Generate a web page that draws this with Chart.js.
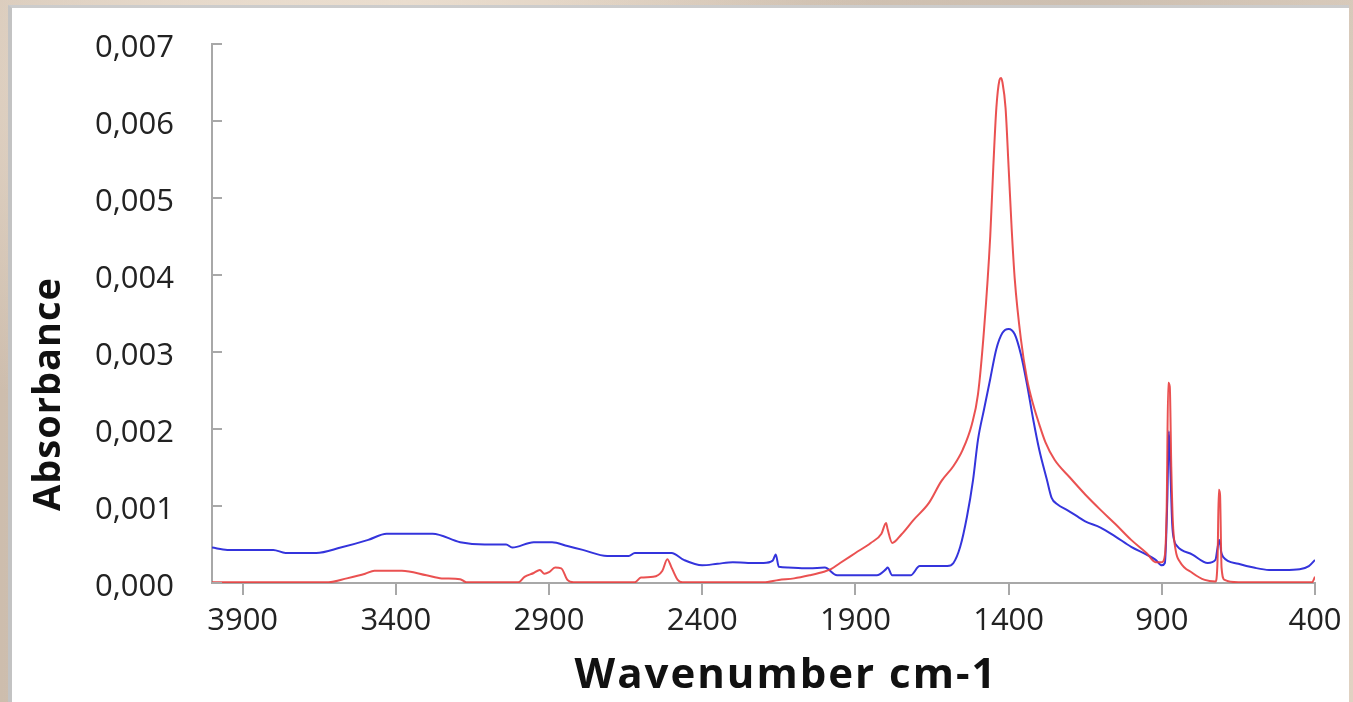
<!DOCTYPE html>
<html>
<head>
<meta charset="utf-8">
<script src="https://cdn.jsdelivr.net/npm/chart.js@4.4.1/dist/chart.umd.min.js"></script>
<style>
    html, body { margin: 0; padding: 0; }
    body {
        width: 1353px; height: 702px; overflow: hidden; position: relative;
        background-color: #d5c6b6;
        background-image:
            radial-gradient(ellipse at 20% 10%, rgba(240,228,214,0.8), rgba(240,228,214,0) 40%),
            radial-gradient(ellipse at 80% 0%, rgba(200,186,172,0.7), rgba(200,186,172,0) 35%),
            linear-gradient(90deg, #cdbdad, #e2d4c4 30%, #d3c3b2 60%, #e0d2c2);
    }
    #panel {
        position: absolute; left: 8px; top: 5px; width: 1337px; height: 700px;
        background: #fff; border-left: 4px solid #c3c3c3; border-top: 3px solid #cccccc;
    }
    #chart { position: absolute; left: 0; top: 0; }
</style>
</head>
<body>
<div id="panel"></div>
<canvas id="chart" width="1353" height="702"></canvas>
<script>
// Spectrum data (wavenumber cm-1, absorbance x 1e-3)
const blueWavenumbers = [4000, 3950, 3800, 3760, 3660, 3580, 3490, 3430, 3280, 3190, 3110, 3040, 3020, 2950, 2890, 2840, 2790, 2710, 2640, 2620, 2500, 2460, 2400, 2350, 2300, 2250, 2200, 2170, 2160, 2150, 2120, 2050, 2000, 1960, 1900, 1830, 1800, 1795, 1780, 1720, 1690, 1600, 1580, 1558, 1536, 1516, 1500, 1480, 1460, 1440, 1420, 1400, 1380, 1360, 1340, 1320, 1300, 1275, 1260, 1240, 1210, 1170, 1150, 1100, 1050, 1000, 950, 920, 900, 890, 882, 877, 872, 866, 860, 850, 800, 750, 725, 718, 712, 706, 700, 650, 600, 550, 500, 450, 420, 400];
const blueAbsorbance = [0.46, 0.43, 0.43, 0.39, 0.39, 0.46, 0.56, 0.64, 0.64, 0.53, 0.50, 0.50, 0.46, 0.53, 0.53, 0.48, 0.43, 0.35, 0.35, 0.39, 0.39, 0.30, 0.23, 0.25, 0.27, 0.26, 0.26, 0.29, 0.37, 0.21, 0.20, 0.19, 0.20, 0.10, 0.10, 0.10, 0.18, 0.20, 0.10, 0.10, 0.22, 0.22, 0.26, 0.47, 0.86, 1.34, 1.86, 2.26, 2.65, 3.04, 3.25, 3.30, 3.23, 2.97, 2.58, 2.13, 1.73, 1.34, 1.11, 1.02, 0.95, 0.85, 0.80, 0.72, 0.60, 0.47, 0.37, 0.30, 0.23, 0.26, 1.08, 1.97, 1.47, 0.76, 0.56, 0.48, 0.37, 0.26, 0.30, 0.46, 0.56, 0.40, 0.34, 0.25, 0.20, 0.17, 0.17, 0.18, 0.22, 0.30];

const redWavenumbers = [4000, 3620, 3560, 3500, 3470, 3380, 3300, 3250, 3190, 3170, 3000, 2980, 2950, 2930, 2915, 2900, 2880, 2860, 2840, 2820, 2620, 2600, 2560, 2530, 2514, 2500, 2480, 2465, 2200, 2150, 2100, 2050, 2000, 1980, 1950, 1900, 1850, 1815, 1800, 1795, 1780, 1750, 1710, 1660, 1620, 1580, 1550, 1520, 1500, 1480, 1460, 1450, 1440, 1430, 1425, 1420, 1410, 1400, 1390, 1380, 1360, 1340, 1320, 1300, 1280, 1250, 1200, 1150, 1100, 1050, 1000, 950, 920, 900, 890, 884, 879, 874, 869, 864, 855, 840, 800, 760, 725, 718, 714, 710, 705, 695, 650, 500, 410, 400];
const redAbsorbance = [0.01, 0.01, 0.06, 0.12, 0.16, 0.16, 0.10, 0.06, 0.05, 0.01, 0.01, 0.08, 0.13, 0.17, 0.12, 0.14, 0.20, 0.19, 0.04, 0.01, 0.01, 0.07, 0.08, 0.16, 0.31, 0.20, 0.04, 0.01, 0.01, 0.04, 0.06, 0.10, 0.15, 0.18, 0.26, 0.39, 0.52, 0.64, 0.78, 0.70, 0.52, 0.63, 0.82, 1.04, 1.32, 1.52, 1.73, 2.06, 2.45, 3.30, 4.50, 5.40, 6.17, 6.53, 6.56, 6.50, 6.17, 5.40, 4.60, 3.95, 3.17, 2.65, 2.32, 2.06, 1.83, 1.60, 1.37, 1.15, 0.95, 0.76, 0.56, 0.39, 0.27, 0.27, 0.36, 1.00, 2.60, 2.55, 1.50, 0.80, 0.43, 0.27, 0.13, 0.04, 0.02, 0.30, 1.21, 1.15, 0.20, 0.04, 0.01, 0.01, 0.01, 0.08];

const xTickValues = [3900, 3400, 2900, 2400, 1900, 1400, 900, 400];
const yTickValues = [0, 0.001, 0.002, 0.003, 0.004, 0.005, 0.006, 0.007];

function toPoints(xs, ys) {
    return xs.map((x, i) => ({ x: x, y: ys[i] / 1000 }));
}

const axisColor = '#a8a8a8';
const tickFont = { family: '"Open Sans", sans-serif', size: 31 };

// inward y ticks + axis titles
const decorPlugin = {
    id: 'decor',
    afterDraw(chart) {
        const ctx = chart.ctx;
        const area = chart.chartArea;
        const y = chart.scales.y;
        ctx.save();
        ctx.strokeStyle = axisColor;
        ctx.lineWidth = 2;
        y.ticks.forEach(t => {
            const py = Math.round(y.getPixelForValue(t.value));
            ctx.beginPath();
            ctx.moveTo(area.left, py);
            ctx.lineTo(area.left + 10, py);
            ctx.stroke();
        });
        ctx.fillStyle = '#111';
        ctx.textAlign = 'center';
        ctx.textBaseline = 'middle';
        ctx.font = 'bold 42px "Open Sans", sans-serif';
        ctx.letterSpacing = '2px';
        ctx.fillText('Wavenumber cm-1', 786, 676);
        ctx.font = 'bold 38px "Open Sans", sans-serif';
        ctx.letterSpacing = '1px';
        ctx.translate(49, 394);
        ctx.rotate(-Math.PI / 2);
        ctx.fillText('Absorbance', 0, 0);
        ctx.restore();
    }
};

new Chart(document.getElementById('chart'), {
    type: 'line',
    data: {
        datasets: [{
            data: toPoints(redWavenumbers, redAbsorbance),
            borderColor: 'rgba(232, 62, 62, 0.9)',
            borderWidth: 2,
            pointRadius: 0,
            cubicInterpolationMode: 'monotone'
        }, {
            data: toPoints(blueWavenumbers, blueAbsorbance),
            borderColor: '#3434dc',
            borderWidth: 2,
            pointRadius: 0,
            cubicInterpolationMode: 'monotone'
        }]
    },
    options: {
        responsive: false,
        animation: false,
        devicePixelRatio: 1,
        layout: { padding: { left: 0, right: 38, top: 44, bottom: 0 } },
        plugins: { legend: { display: false }, tooltip: { enabled: false } },
        scales: {
            x: {
                type: 'linear',
                min: 400,
                max: 4000,
                reverse: true,
                afterBuildTicks: scale => { scale.ticks = xTickValues.map(v => ({ value: v })); },
                afterFit: scale => { scale.height = 119; },
                ticks: {
                    font: tickFont,
                    color: '#222',
                    padding: 8,
                    maxRotation: 0,
                    callback: v => String(v)
                },
                grid: { drawOnChartArea: false, drawTicks: true, tickLength: 12, color: axisColor, lineWidth: 2 },
                border: { display: true, color: axisColor, width: 2 }
            },
            y: {
                min: 0,
                max: 0.007,
                afterBuildTicks: scale => { scale.ticks = yTickValues.map(v => ({ value: v })); },
                afterFit: scale => {
                    scale.width = 212;
                    scale.paddingTop = 0;
                    scale.paddingBottom = 0;
                },
                ticks: {
                    font: tickFont,
                    color: '#222',
                    padding: 38,
                    labelOffset: 4,
                    callback: v => v.toFixed(3).replace('.', ',')
                },
                grid: { drawOnChartArea: false, drawTicks: false },
                border: { display: true, color: axisColor, width: 2 }
            }
        }
    },
    plugins: [decorPlugin]
});
</script>
</body>
</html>
